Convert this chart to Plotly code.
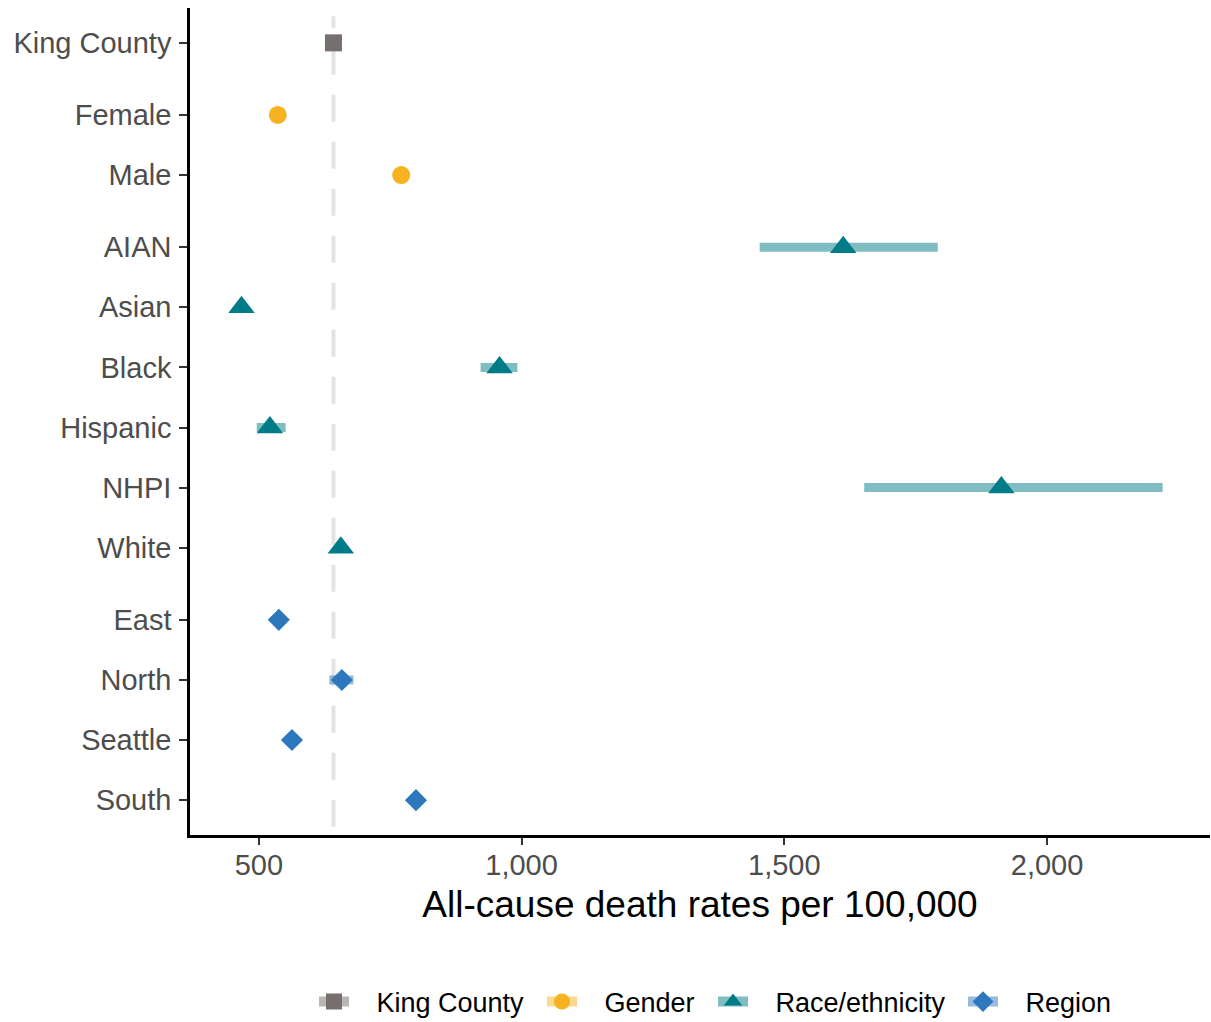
import plotly.graph_objects as go

categories = ["King County", "Female", "Male", "AIAN", "Asian", "Black", "Hispanic",
              "NHPI", "White", "East", "North", "Seattle", "South"]
groups = ["King County", "Gender", "Gender", "Race/ethnicity", "Race/ethnicity",
          "Race/ethnicity", "Race/ethnicity", "Race/ethnicity", "Race/ethnicity",
          "Region", "Region", "Region", "Region"]
rates = [642, 536, 771, 1612, 467, 958, 521, 1913, 656, 538, 658, 563, 799]
lower = [636, 525, 758, 1453, 458, 922, 496, 1652, 648, 526, 634, 553, 787]
upper = [648, 547, 784, 1792, 476, 992, 551, 2220, 664, 550, 680, 573, 811]
# row positions (groups separated by a small gap)
ypos = [0, 1.2, 2.2, 3.4, 4.4, 5.4, 6.4, 7.4, 8.4, 9.6, 10.6, 11.6, 12.6]

group_order = ["King County", "Gender", "Race/ethnicity", "Region"]
styles = {
    "King County": dict(color="#776e6e", ci="rgba(119,110,110,0.5)", symbol="square", size=17),
    "Gender": dict(color="#f6b220", ci="rgba(246,178,32,0.5)", symbol="circle", size=18),
    "Race/ethnicity": dict(color="#007b88", ci="rgba(0,123,136,0.5)", symbol="triangle-up", size=23),
    "Region": dict(color="#2d78bc", ci="rgba(45,120,188,0.5)", symbol="diamond", size=17),
}
# legend placement (pixel left edge of each legend entry)
legend_left_px = [314, 542, 713, 963]

W, H = 1211, 1022
ML, MR, MT, MB = 190, 1, 8, 187
PW, PH = W - ML - MR, H - MT - MB

fig = go.Figure()

legend_names = ["legend", "legend2", "legend3", "legend4"]
for k, g in enumerate(group_order):
    idx = [i for i, gg in enumerate(groups) if gg == g]
    st = styles[g]
    xs = [rates[i] for i in idx]
    ys = [ypos[i] for i in idx]
    fig.add_trace(go.Scatter(
        x=xs, y=ys, mode="markers", showlegend=False,
        marker=dict(symbol=st["symbol"], size=st["size"], color=st["color"],
                    line=dict(width=0)),
        error_x=dict(type="data", symmetric=False,
                     array=[upper[i] - rates[i] for i in idx],
                     arrayminus=[rates[i] - lower[i] for i in idx],
                     color=st["ci"], thickness=9, width=0),
        hoverinfo="skip",
    ))
    # legend entry
    fig.add_trace(go.Scatter(
        x=[None], y=[None], mode="lines+markers", name="\u00a0\u00a0\u00a0" + g,
        legend=legend_names[k],
        line=dict(color=st["ci"], width=10),
        marker=dict(symbol=st["symbol"], size=st["size"], color=st["color"]),
    ))

kc_rate = rates[0]
fig.add_shape(type="line", x0=kc_rate, x1=kc_rate, y0=0.01, y1=0.99,
              xref="x", yref="paper", line=dict(color="#e3e3e3", width=4, dash="27px,20px"),
              layer="below")

legend_y = (MT + PH - 1002) / PH
layout_legends = {}
for k, name in enumerate(legend_names):
    layout_legends[name] = dict(
        orientation="h", x=(legend_left_px[k] - ML) / PW, xanchor="left",
        y=legend_y, yanchor="middle", bgcolor="rgba(0,0,0,0)",
        font=dict(size=27, color="black"), itemwidth=30)

fig.update_layout(
    width=W, height=H,
    margin=dict(l=ML, r=MR, t=MT, b=MB, autoexpand=False),
    paper_bgcolor="white", plot_bgcolor="white",
    font=dict(family="Liberation Sans, Arial, sans-serif", size=29, color="#4d4d4d"),
    showlegend=True,
    xaxis=dict(range=[369, 2310], tickvals=[500, 1000, 1500, 2000],
               ticktext=["500", "1,000", "1,500", "2,000"], automargin=False,
               showgrid=False, zeroline=False, showline=True, linecolor="black", linewidth=2.5,
               ticks="outside", ticklen=7, tickwidth=2, tickcolor="#333333",
               ticklabelstandoff=-5,
               tickfont=dict(size=29, color="#4d4d4d"),
               title=dict(text="All-cause death rates per 100,000",
                          font=dict(size=37, color="black"), standoff=12)),
    yaxis=dict(range=[13.18, -0.58], tickvals=ypos, ticktext=categories, automargin=False,
               showgrid=False, zeroline=False, showline=True, linecolor="black", linewidth=2.5,
               ticks="outside", ticklen=8, tickwidth=2, tickcolor="#333333",
               ticklabelstandoff=2,
               tickfont=dict(size=29, color="#4d4d4d")),
    **layout_legends,
)

fig.write_html("out.html", config={"displayModeBar": False},
               post_script="document.body.style.margin='0';document.body.style.overflow='hidden';")
